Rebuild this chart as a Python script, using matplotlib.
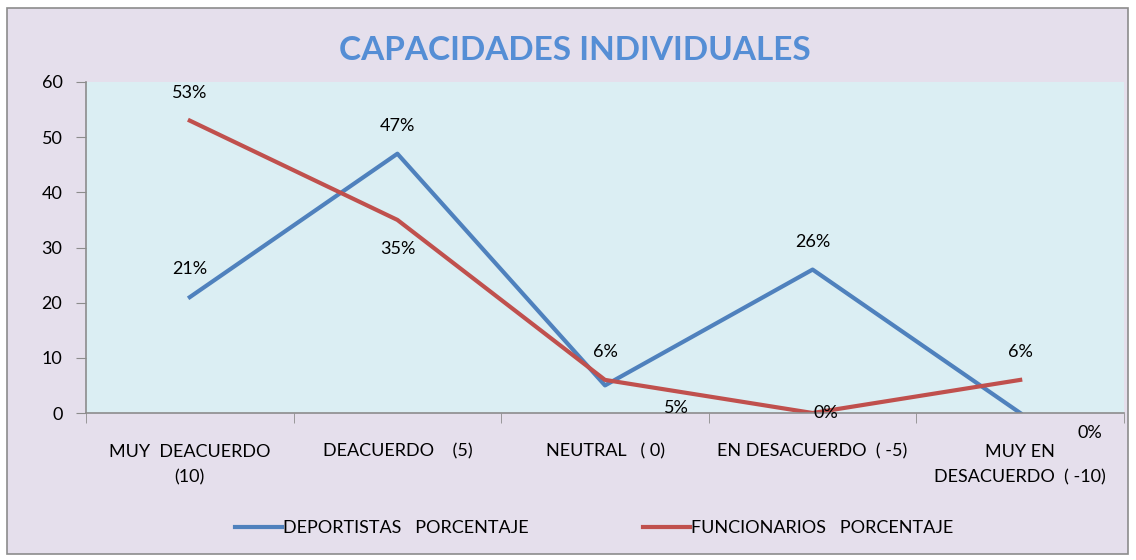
import matplotlib.pyplot as plt
from matplotlib.patches import Rectangle

# ------------------------------
# datos del gráfico
# ------------------------------
categorias = ["MUY  DEACUERDO\n(10)", "DEACUERDO    (5)", "NEUTRAL   ( 0)",
              "EN DESACUERDO  ( -5)", "MUY EN\nDESACUERDO  ( -10)"]
deportistas = [21, 47, 5, 26, 0]
funcionarios = [53, 35, 6, 0, 6]
etiquetas_dep = ["21%", "47%", "5%", "26%", "0%"]
etiquetas_fun = ["53%", "35%", "6%", "0%", "6%"]
y_ticks = [0, 10, 20, 30, 40, 50, 60]

AZUL = "#4F81BD"
ROJO = "#C0504D"
FONDO = "#E5DFEC"
AREA = "#DBEEF3"
FS = 13

plt.rcParams["font.family"] = ["Lato", "DejaVu Sans"]

fig = plt.figure(figsize=(11.36, 5.6), dpi=100)
fig.patch.set_facecolor("white")
# marco exterior del gráfico (detrás de los ejes)
fig.patches.append(Rectangle((7 / 1136, 6 / 560), 1121 / 1136, 546 / 560,
                             transform=fig.transFigure, facecolor=FONDO,
                             edgecolor="#8C8C8C", linewidth=1.2, zorder=-10))

ax = fig.add_axes([86 / 1136, 1 - 413 / 560, 1038 / 1136, 331 / 560])
ax.set_facecolor(AREA)

x = list(range(len(categorias)))
ax.plot(x, deportistas, color=AZUL, linewidth=3, label="DEPORTISTAS   PORCENTAJE")
ax.plot(x, funcionarios, color=ROJO, linewidth=3, label="FUNCIONARIOS   PORCENTAJE")

# desplazamientos de etiquetas (pixeles)
off_dep = [(0, 28), (0, 28), (71, -23), (0, 28), (70, -20)]
off_fun = [(0, 28), (0, -29), (0, 28), (13, 0), (0, 28)]
for i in x:
    dx, dy = off_dep[i]
    ax.annotate(etiquetas_dep[i], (x[i], deportistas[i]),
                xytext=(dx * 0.72, dy * 0.72), textcoords="offset points",
                ha="center", va="center", fontsize=FS, color="black",
                annotation_clip=False)
    dx, dy = off_fun[i]
    ax.annotate(etiquetas_fun[i], (x[i], funcionarios[i]),
                xytext=(dx * 0.72, dy * 0.72), textcoords="offset points",
                ha="center", va="center", fontsize=FS, color="black",
                annotation_clip=False)

ax.set_xlim(-0.5, len(categorias) - 0.5)
ax.set_ylim(0, 60)
ax.set_yticks(y_ticks)
ax.tick_params(axis="y", labelsize=FS, length=7, color="#8C8C8C", pad=10)

ax.set_xticks(x)
ax.set_xticklabels(categorias, fontsize=FS, linespacing=1.75)
ax.tick_params(axis="x", which="major", length=0, pad=22)
ax.set_xticks([i + 0.5 for i in range(-1, len(categorias))], minor=True)
ax.tick_params(axis="x", which="minor", length=7, color="#8C8C8C")

for s in ["top", "right"]:
    ax.spines[s].set_visible(False)
for s in ["left", "bottom"]:
    ax.spines[s].set_color("#8C8C8C")
    ax.spines[s].set_linewidth(1.2)

fig.text(0.506, 1 - 50 / 560, "CAPACIDADES INDIVIDUALES", ha="center", va="center",
         fontsize=24, fontweight="bold", color="#558ED5")

fig.legend(loc="center", bbox_to_anchor=(0.523, 1 - 528 / 560), ncol=2,
           frameon=False, fontsize=FS, handlelength=2.6, handletextpad=0.1,
           columnspacing=6.3)

fig.savefig("out.png", dpi=100, facecolor=fig.get_facecolor())
